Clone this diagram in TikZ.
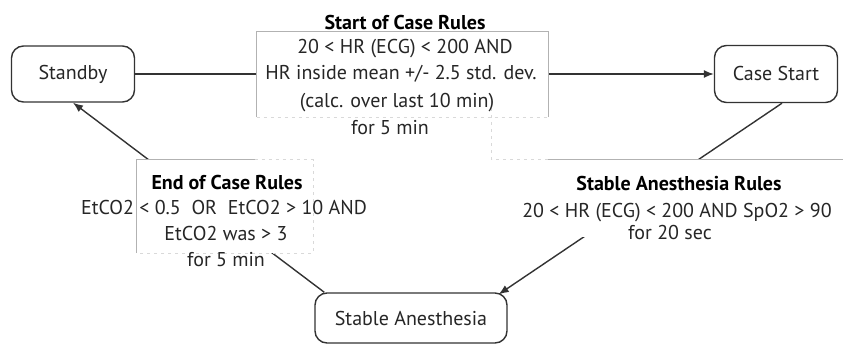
\documentclass[tikz,border=0pt]{standalone}
\usepackage{fontspec}
\setmainfont{PT Sans}
\usetikzlibrary{arrows.meta}
\tikzset{
  state/.style={draw=black!80,line width=1.4pt,rounded corners=12pt,fill=white,inner sep=0pt,
                font=\fontsize{20}{22}\selectfont,text=black!85},
  rulebg/.style={fill=white,inner sep=0pt},
  ruleln/.style={anchor=base,inner sep=0pt,font=\fontsize{20}{22}\selectfont,text=black!85},
  ruletitle/.style={ruleln,font=\fontsize{20}{22}\selectfont\bfseries,text=black},
  trans/.style={draw=black!80,line width=1.4pt,-{Latex[length=10pt,width=8pt]}},
  frame/.style={draw=black!30,line width=0.7pt},
  faint/.style={draw=black!15,line width=0.7pt,dash pattern=on 3pt off 4pt},
}

\begin{document}
\begin{tikzpicture}[x=1pt,y=-1pt]
  \useasboundingbox (0,0) rectangle (843,345);

  % states
  \node[state,minimum width=123pt,minimum height=56pt] (standby) at (73,74) {Standby};
  \node[state,minimum width=123pt,minimum height=57pt] (casestart) at (776,74) {Case Start};
  \node[state,minimum width=192pt,minimum height=50pt] (stable) at (411,318) {Stable Anesthesia};

  % transitions
  \draw[trans] (standby) -- (casestart);
  \draw[trans] ([xshift=6pt]casestart.south) -- ([xshift=-9pt,yshift=-2pt]stable.north east);
  \draw[trans] ([xshift=10pt]stable.north west) -- (standby.south);

  % rule boxes sit on top of the transitions
  \node[rulebg,minimum width=291pt,minimum height=85pt] (socbox) at (402.5,74.5) {};
  \draw[frame] (socbox.south west) |- (socbox.north east) -- (socbox.south east);
  \draw[faint] (socbox.south west) -- (socbox.south east);

  \node[rulebg,minimum width=176pt,minimum height=93pt] (eocbox) at (225,206.5) {};
  \draw[frame] (eocbox.south west) -- (eocbox.north west) -- ([xshift=118pt]eocbox.north west);
  \draw[faint] ([xshift=118pt]eocbox.north west) -- (eocbox.north east) -- (eocbox.south east) -- (eocbox.south west);

  \node[rulebg,minimum width=351pt,minimum height=77pt] (sabox) at (667.5,198.5) {};
  \draw[frame] ([xshift=56pt]sabox.north west) -- (sabox.north east);
  \draw[faint] ([xshift=56pt]sabox.north west) -- (sabox.north west) -- ([yshift=62pt]sabox.north west);

  % rule texts
  \node[ruletitle] (soctitle) at (405,30) {Start of Case Rules};
  \foreach \y/\x/\t [count=\i] in {54/405/{20 < HR (ECG) < 200 AND},80/401/{HR inside mean +/- 2.5 std. dev.},
                                   107/397/{(calc. over last 10 min)},134/390/{for 5 min}}{
    \node[ruleln] (soc\i) at (\x,\y) {\t};
  }
  \node[ruletitle] (eoctitle) at (227,189) {End of Case Rules};
  \foreach \y/\x/\t [count=\i] in {214/224/{EtCO2 < 0.5\ \ OR\ \ EtCO2 > 10 AND},240/226/{EtCO2 was > 3},
                                   266/226/{for 5 min}}{
    \node[ruleln] (eoc\i) at (\x,\y) {\t};
  }
  \node[ruletitle] (satitle) at (679,190) {Stable Anesthesia Rules};
  \foreach \y/\x/\t [count=\i] in {217/677/{20 < HR (ECG) < 200 AND SpO2 > 90},239/670/{for 20 sec}}{
    \node[ruleln] (sa\i) at (\x,\y) {\t};
  }
\end{tikzpicture}
\end{document}
